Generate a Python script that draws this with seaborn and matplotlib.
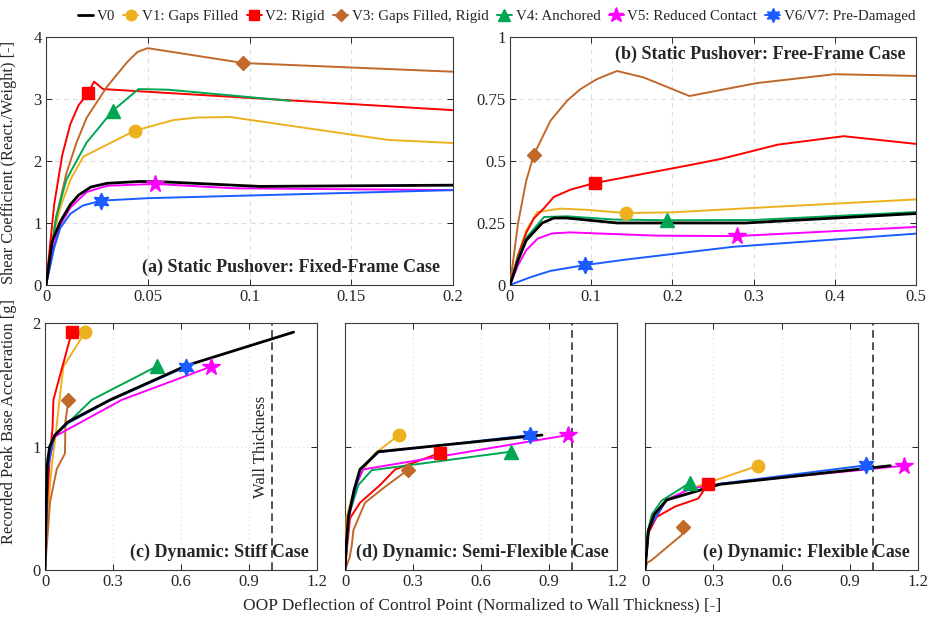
import matplotlib
matplotlib.use("Agg")
import matplotlib.pyplot as plt
import seaborn as sns
import pandas as pd
from matplotlib.lines import Line2D

# ---------------- data ----------------
SERIES = ["V0", "V1: Gaps Filled", "V2: Rigid", "V3: Gaps Filled, Rigid",
          "V4: Anchored", "V5: Reduced Contact", "V6/V7: Pre-Damaged"]
COLORS = ["#000000", "#EDB120", "#FF0000", "#C0692A", "#00A651", "#FF00FF", "#1A5CFF"]
MARKERS = [None, "o", "s", "D", "^", "*", (6, 1, 0)]
MSIZES = [0, 9, 8, 7.5, 10, 13, 12]

# (a) Static pushover, fixed frame
A_X = [[0, 0.003, 0.007, 0.012, 0.016, 0.022, 0.03, 0.046, 0.06, 0.105, 0.2],
       [0, 0.004, 0.007, 0.012, 0.0183, 0.0437, 0.0626, 0.074, 0.0904, 0.168, 0.2],
       [0, 0.004, 0.008, 0.012, 0.016, 0.0208, 0.0236, 0.028, 0.2],
       [0, 0.005, 0.01, 0.015, 0.02, 0.03, 0.04, 0.045, 0.05, 0.097, 0.2],
       [0, 0.005, 0.01, 0.02, 0.0328, 0.0454, 0.06, 0.12],
       [0, 0.004, 0.007, 0.012, 0.02, 0.03, 0.0536, 0.092, 0.2],
       [0, 0.004, 0.007, 0.012, 0.018, 0.027, 0.05, 0.2]]
A_Y = [[0, 0.7, 1.02, 1.3, 1.45, 1.58, 1.64, 1.67, 1.66, 1.59, 1.61],
       [0, 0.85, 1.25, 1.7, 2.07, 2.49, 2.66, 2.70, 2.71, 2.34, 2.29],
       [0, 1.3, 2.1, 2.6, 2.9, 3.10, 3.28, 3.16, 2.82],
       [0, 1.1, 1.8, 2.3, 2.7, 3.2, 3.6, 3.76, 3.82, 3.58, 3.44],
       [0, 1.1, 1.7, 2.3, 2.81, 3.16, 3.15, 2.97],
       [0, 0.65, 0.97, 1.25, 1.5, 1.6, 1.63, 1.56, 1.53],
       [0, 0.6, 0.92, 1.15, 1.28, 1.36, 1.40, 1.53]]
A_MARK = [None, 5, 5, 9, 4, 6, 5]

# (b) Static pushover, free frame
B_X = [[0, 0.01, 0.02, 0.0397, 0.054, 0.07, 0.132, 0.29, 0.5],
       [0, 0.01, 0.02, 0.0336, 0.0622, 0.0948, 0.1432, 0.2, 0.295, 0.5],
       [0, 0.01, 0.02, 0.0294, 0.042, 0.054, 0.075, 0.1043, 0.219, 0.2607, 0.33, 0.411, 0.5],
       [0, 0.01, 0.02, 0.0294, 0.05, 0.0704, 0.0868, 0.107, 0.1318, 0.1645, 0.221, 0.3037, 0.40, 0.5],
       [0, 0.01, 0.02, 0.042, 0.07, 0.128, 0.194, 0.3, 0.5],
       [0, 0.01, 0.02, 0.034, 0.052, 0.074, 0.18, 0.279, 0.5],
       [0, 0.025, 0.05, 0.092, 0.144, 0.275, 0.5]]
B_Y = [[0, 0.1, 0.18, 0.25, 0.27, 0.27, 0.25, 0.25, 0.288],
       [0, 0.12, 0.22, 0.294, 0.308, 0.303, 0.29, 0.293, 0.31, 0.345],
       [0, 0.12, 0.21, 0.268, 0.31, 0.355, 0.385, 0.411, 0.482, 0.509, 0.566, 0.60, 0.569],
       [0, 0.25, 0.42, 0.525, 0.663, 0.743, 0.79, 0.83, 0.863, 0.837, 0.762, 0.814, 0.85, 0.843],
       [0, 0.11, 0.19, 0.274, 0.277, 0.264, 0.261, 0.262, 0.294],
       [0, 0.08, 0.14, 0.187, 0.208, 0.212, 0.199, 0.197, 0.234],
       [0, 0.031, 0.057, 0.08, 0.103, 0.154, 0.207]]
B_MARK = [None, 6, 7, 3, 6, 7, 3]

# (c) Dynamic, stiff
C_X = [[0, 0.005, 0.01, 0.02, 0.044, 0.1, 0.287, 0.626, 1.097],
       [0, 0.01, 0.03, 0.044, 0.059, 0.081, 0.177],
       [0, 0.007, 0.02, 0.033, 0.037, 0.118],
       [0, 0.01, 0.022, 0.052, 0.088, 0.09, 0.103],
       [0, 0.01, 0.03, 0.06, 0.206, 0.496],
       [0, 0.01, 0.04, 0.06, 0.338, 0.732],
       [0, 0.01, 0.04, 0.1, 0.28, 0.623]]
C_Y = [[0, 0.5, 0.85, 1.0, 1.095, 1.2, 1.38, 1.66, 1.93],
       [0, 0.45, 0.85, 1.05, 1.30, 1.65, 1.93],
       [0, 0.45, 0.9, 1.15, 1.38, 1.93],
       [0, 0.25, 0.55, 0.82, 0.946, 1.2, 1.38],
       [0, 0.9, 1.05, 1.12, 1.38, 1.655],
       [0, 0.8, 1.08, 1.1, 1.38, 1.65],
       [0, 0.8, 1.09, 1.19, 1.37, 1.65]]
C_MARK = [None, 6, 5, 6, 5, 5, 5]

# (d) Dynamic, semi-flexible
D_X = [[0, 0.005, 0.0147, 0.04, 0.066, 0.147, 0.869],
       [0, 0.007, 0.04, 0.066, 0.132, 0.238],
       [0, 0.01, 0.022, 0.066, 0.155, 0.221, 0.42],
       [0, 0.02, 0.03, 0.037, 0.088, 0.18, 0.276],
       [0, 0.0147, 0.059, 0.118, 0.732],
       [0, 0.01, 0.04, 0.08, 0.984],
       [0, 0.015, 0.066, 0.147, 0.815]]
D_Y = [[0, 0.2, 0.43, 0.65, 0.816, 0.96, 1.095],
       [0, 0.43, 0.65, 0.78, 0.946, 1.095],
       [0, 0.2, 0.42, 0.546, 0.69, 0.816, 0.95],
       [0, 0.1, 0.2, 0.324, 0.546, 0.68, 0.81],
       [0, 0.43, 0.69, 0.81, 0.96],
       [0, 0.35, 0.65, 0.816, 1.095],
       [0, 0.42, 0.81, 0.955, 1.095]]
D_MARK = [None, 5, 6, 6, 4, 4, 4]

# (e) Dynamic, flexible
E_X = [[0, 0.015, 0.04, 0.095, 0.329, 1.078],
       [0, 0.015, 0.04, 0.088, 0.2, 0.497],
       [0, 0.015, 0.051, 0.132, 0.234, 0.278],
       [0, 0.01, 0.029, 0.161, 0.168],
       [0, 0.01, 0.03, 0.073, 0.198],
       [0, 0.015, 0.095, 0.2, 0.33, 1.137],
       [0, 0.015, 0.095, 0.33, 0.973]]
E_Y = [[0, 0.32, 0.45, 0.568, 0.695, 0.846],
       [0, 0.3, 0.43, 0.563, 0.66, 0.846],
       [0, 0.3, 0.43, 0.515, 0.58, 0.70],
       [0, 0.06, 0.08, 0.284, 0.35],
       [0, 0.3, 0.45, 0.563, 0.708],
       [0, 0.33, 0.57, 0.66, 0.70, 0.846],
       [0, 0.33, 0.57, 0.70, 0.85]]
E_MARK = [None, 5, 5, 4, 4, 5, 4]

PANEL_TITLES = ["(a) Static Pushover: Fixed-Frame Case",
                "(b) Static Pushover: Free-Frame Case",
                "(c) Dynamic: Stiff Case",
                "(d) Dynamic: Semi-Flexible Case",
                "(e) Dynamic: Flexible Case"]
A_XTICKS = [0, 0.05, 0.1, 0.15, 0.2]
A_XLABELS = ["0", "0.05", "0.1", "0.15", "0.2"]
A_YTICKS = [0, 1, 2, 3, 4]
A_YLABELS = ["0", "1", "2", "3", "4"]
B_XTICKS = [0, 0.1, 0.2, 0.3, 0.4, 0.5]
B_XLABELS = ["0", "0.1", "0.2", "0.3", "0.4", "0.5"]
B_YTICKS = [0, 0.25, 0.5, 0.75, 1]
B_YLABELS = ["0", "0.25", "0.5", "0.75", "1"]
DYN_XTICKS = [0, 0.3, 0.6, 0.9, 1.2]
DYN_XLABELS = ["0", "0.3", "0.6", "0.9", "1.2"]
DYN_YTICKS = [0, 1, 2]
DYN_YLABELS = ["0", "1", "2"]
WALL_THICKNESS = 1.0

# ---------------- style ----------------
sns.set_style("ticks")
plt.rcParams["font.family"] = ["Liberation Serif", "DejaVu Serif"]
plt.rcParams["axes.edgecolor"] = "#262626"
plt.rcParams["axes.linewidth"] = 0.8

fig = plt.figure(figsize=(9.34, 6.24), dpi=100)

POS = [[0.0493, 0.5433, 0.4357, 0.3974],
       [0.5460, 0.5433, 0.4347, 0.3974],
       [0.0482, 0.0865, 0.2912, 0.3951],
       [0.3694, 0.0865, 0.2912, 0.3951],
       [0.6906, 0.0865, 0.2923, 0.3951]]


def draw_panel(ax, xs, ys, marks):
    order = [1, 2, 3, 4, 5, 6, 0]
    for i in order:
        df = pd.DataFrame({"x": xs[i], "y": ys[i]})
        lw = 2.0 if i == 0 else 1.4
        sns.lineplot(data=df, x="x", y="y", sort=False, estimator=None,
                     color=COLORS[i], linewidth=lw, ax=ax, zorder=3 + (i == 0))
    for i in order:
        if marks[i] is None:
            continue
        m = marks[i]
        ax.plot([xs[i][m]], [ys[i][m]], linestyle="none", marker=MARKERS[i],
                markersize=MSIZES[i], color=COLORS[i], markeredgecolor=COLORS[i],
                zorder=6)


def style_axes(ax, xlim, ylim, xt, xl, yt, yl, grid_ls, show_ylabels=True):
    ax.set_xlim(*xlim)
    ax.set_ylim(*ylim)
    ax.set_xticks(xt)
    ax.set_xticklabels(xl)
    ax.set_yticks(yt)
    if show_ylabels:
        ax.set_yticklabels(yl)
    else:
        ax.set_yticklabels([])
    ax.set_xlabel("")
    ax.set_ylabel("")
    ax.tick_params(direction="in", top=True, right=True, length=4,
                   width=0.7, color="#262626", labelsize=12, pad=3)
    ax.grid(True, linestyle=grid_ls, color="#dcdcdc", linewidth=0.8, zorder=0)
    for s in ax.spines.values():
        s.set_visible(True)
        s.set_color("#3a3a3a")


axes = [fig.add_axes(p) for p in POS]

# (a)
draw_panel(axes[0], A_X, A_Y, A_MARK)
style_axes(axes[0], (0, 0.2), (0, 4), A_XTICKS, A_XLABELS, A_YTICKS, A_YLABELS, (0, (4, 4)))
axes[0].text(0.968, 0.035, PANEL_TITLES[0], transform=axes[0].transAxes, ha="right",
             va="bottom", fontsize=13, fontweight="bold", zorder=10)
# (b)
draw_panel(axes[1], B_X, B_Y, B_MARK)
style_axes(axes[1], (0, 0.5), (0, 1), B_XTICKS, B_XLABELS, B_YTICKS, B_YLABELS, (0, (4, 4)))
axes[1].text(0.973, 0.965, PANEL_TITLES[1], transform=axes[1].transAxes, ha="right",
             va="top", fontsize=13, fontweight="bold", zorder=10)

# (c)-(e)
for k, (xs, ys, mk) in enumerate([(C_X, C_Y, C_MARK), (D_X, D_Y, D_MARK), (E_X, E_Y, E_MARK)]):
    ax = axes[2 + k]
    draw_panel(ax, xs, ys, mk)
    ax.axvline(WALL_THICKNESS, color="#222222", linestyle=(0, (5, 3)), linewidth=1.1, zorder=2)
    style_axes(ax, (0, 1.2), (0, 2), DYN_XTICKS, DYN_XLABELS, DYN_YTICKS, DYN_YLABELS,
               (0, (1, 3)), show_ylabels=(k == 0))
    ax.text(0.97, 0.035, PANEL_TITLES[2 + k], transform=ax.transAxes, ha="right",
            va="bottom", fontsize=13, fontweight="bold", zorder=10)

axes[2].text(0.955, 1.0, "Wall Thickness", rotation=90, ha="center", va="center",
             fontsize=12, zorder=10)

# labels
fig.text(0.010, 0.739, "Shear Coefficient (React./Weight) [-]", rotation=90,
         ha="center", va="center", fontsize=11.8)
fig.text(0.010, 0.325, "Recorded Peak Base Acceleration [g]", rotation=90,
         ha="center", va="center", fontsize=11.8)
fig.text(0.516, 0.03, "OOP Deflection of Control Point (Normalized to Wall Thickness) [-]",
         ha="center", va="center", fontsize=12.5)

# legend
handles = []
for i in range(7):
    handles.append(Line2D([0], [0], color=COLORS[i], linewidth=2.0 if i == 0 else 1.4,
                          marker=MARKERS[i] if MARKERS[i] is not None else None,
                          markersize=MSIZES[i] * 0.85, markeredgecolor=COLORS[i]))
fig.legend(handles, SERIES, loc="center", bbox_to_anchor=(0.532, 0.974), ncol=7,
           frameon=False, handlelength=1.0, handletextpad=0.25, columnspacing=0.55,
           fontsize=10.8, borderaxespad=0)

fig.savefig("out.png", dpi=100)
